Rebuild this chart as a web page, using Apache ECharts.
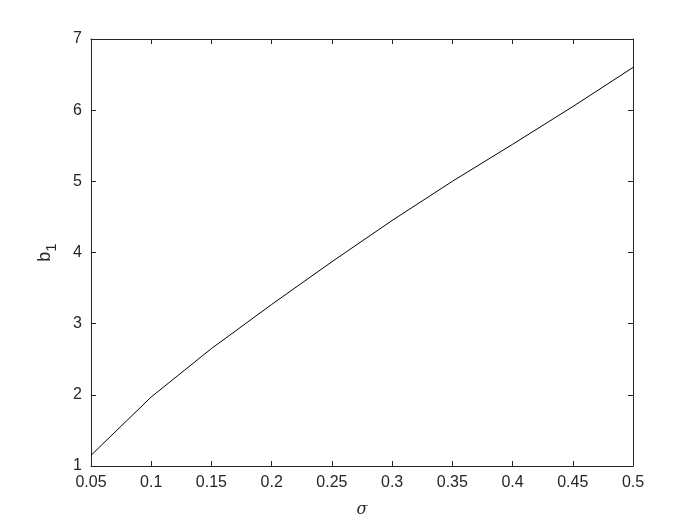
<!DOCTYPE html>
<html><head><meta charset="utf-8">
<script src="https://cdn.jsdelivr.net/npm/echarts@6/dist/echarts.min.js"></script>
<style>html,body{margin:0;padding:0;background:#fff}#c{width:700px;height:525px}</style>
</head><body><div id="c"></div>
<script>
const sigma = [0.05, 0.1, 0.15, 0.2, 0.25, 0.3, 0.35, 0.4, 0.45, 0.5];
const b1 = [1.15, 1.97, 2.65, 3.27, 3.87, 4.45, 5.0, 5.52, 6.05, 6.6];
const xTicks = ['0.05','0.1','0.15','0.2','0.25','0.3','0.35','0.4','0.45','0.5'];
const yTicks = ['1','2','3','4','5','6','7'];

const font = 'Liberation Sans, Arial, sans-serif';
const txt = '#262626';
const fmt = v => String(Math.round(v * 100) / 100);
const chart = echarts.init(document.getElementById('c'));
const baseX = {
  type: 'value', min: 0.05, max: 0.5, interval: 0.05,
  axisLine: {show: true, onZero: false, lineStyle: {color: '#262626', width: 1}},
  axisTick: {show: true, inside: true, length: 5, lineStyle: {color: '#262626'}},
  splitLine: {show: false}
};
const baseY = {
  type: 'value', min: 1, max: 7, interval: 1,
  axisLine: {show: true, onZero: false, lineStyle: {color: '#262626', width: 1}},
  axisTick: {show: true, inside: true, length: 5, lineStyle: {color: '#262626'}},
  splitLine: {show: false}
};
chart.setOption({
  animation: false,
  backgroundColor: '#fff',
  grid: {left: 91, right: 67, top: 39, bottom: 59},
  xAxis: [
    Object.assign({}, baseX, {
      position: 'bottom',
      axisLabel: {color: txt, fontSize: 16, fontFamily: font, margin: 9,
        formatter: v => xTicks[Math.round((v - 0.05) / 0.05)] || fmt(v)},
      name: 'σ', nameLocation: 'middle', nameGap: 36,
      nameTextStyle: {color: txt, fontSize: 16, fontStyle: 'italic', fontFamily: 'DejaVu Serif, serif'}
    }),
    Object.assign({}, baseX, {position: 'top', axisLabel: {show: false}})
  ],
  yAxis: [
    Object.assign({}, baseY, {
      position: 'left',
      axisLabel: {color: txt, fontSize: 16, fontFamily: font, margin: 9,
        formatter: v => yTicks[Math.round(v - 1)] || fmt(v)},
      name: 'b{s|1}', nameLocation: 'middle', nameGap: 32,
      nameTextStyle: {color: txt, fontSize: 18, fontFamily: font,
        rich: {s: {fontSize: 15, fontFamily: font, color: txt, verticalAlign: 'bottom', padding: [12, 0, 0, 0]}}}
    }),
    Object.assign({}, baseY, {position: 'right', axisLabel: {show: false}})
  ],
  series: [{
    type: 'line', xAxisIndex: 0, yAxisIndex: 0,
    data: sigma.map((s, i) => [s, b1[i]]),
    showSymbol: false, symbol: 'none',
    lineStyle: {color: '#000', width: 1}
  }]
});
</script></body></html>
